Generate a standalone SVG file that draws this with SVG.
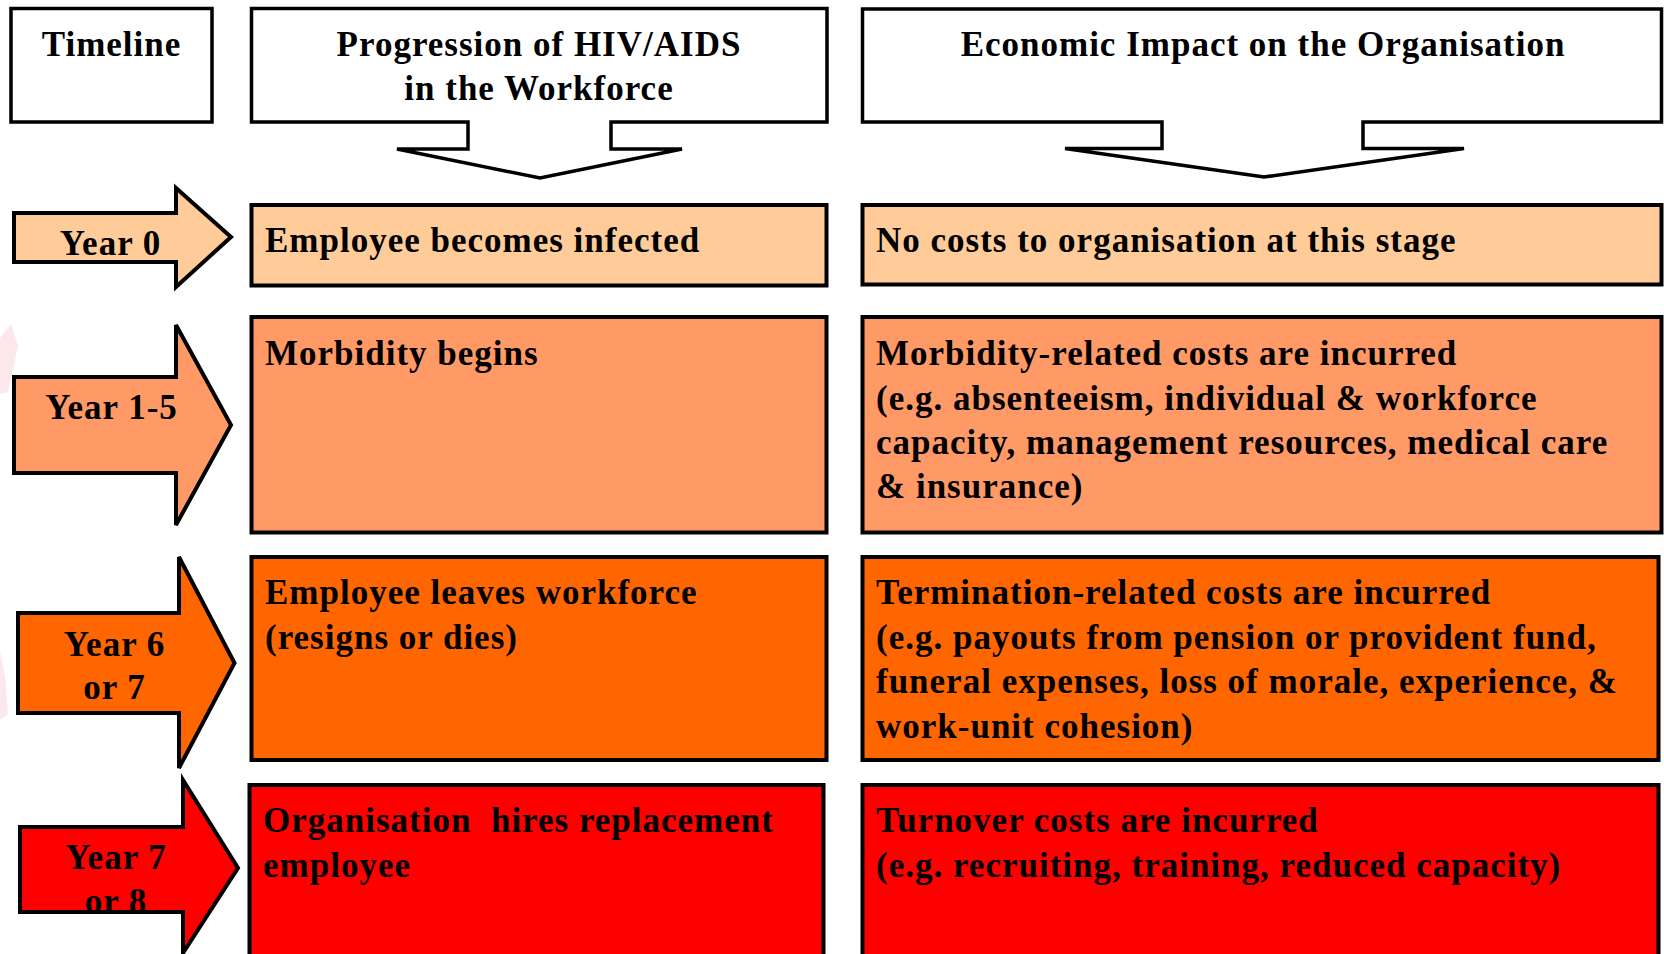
<svg xmlns="http://www.w3.org/2000/svg" width="1664" height="954" viewBox="0 0 1664 954">
<style>
  text { font-family: "Liberation Serif", "Times New Roman", serif; font-weight: bold; font-size: 35px; letter-spacing: 1px; fill: #000; }
  .mid { text-anchor: middle; }
  .pre { white-space: pre; }
  .hdr { fill: #fff; stroke: #000; stroke-width: 3.5; stroke-linejoin: miter; }
  .box { stroke: #000; stroke-width: 4; }
  .arr { stroke: #000; stroke-width: 4; stroke-linejoin: miter; }
  .c1 { fill: #FFCC99; }
  .c2 { fill: #FF9966; }
  .c3 { fill: #FF6600; }
  .c4 { fill: #FF0000; }
  .ghost { fill: #f9c9d0; opacity: 0.45; }
</style>
<defs>
  <clipPath id="clip-y78">
    <rect x="20" y="827" width="163" height="84"/>
  </clipPath>
</defs>
<rect width="1664" height="954" fill="#fff"/>
<polygon class="ghost" points="0,338 11,324 18,346 8,392 0,394"/>
<polygon class="ghost" points="0,652 5,676 8,714 0,720"/>

<g id="hdr-timeline">
  <rect class="hdr" x="11" y="8.5" width="201" height="113.5"/>
  <text class="mid" x="111.5" y="56">Timeline</text>
</g>
<g id="hdr-progression">
  <path class="hdr" d="M251.5,8.5 H827 V122 H611 V149 H682 L540,178 L397,149 H468 V122 H251.5 Z"/>
  <text class="mid" x="539" y="56">Progression of HIV/AIDS</text>
  <text class="mid" x="539" y="100">in the Workforce</text>
</g>
<g id="hdr-economic">
  <path class="hdr" d="M862.5,9 H1661.5 V122 H1363 V148.5 H1464 L1264,177 L1065,148.5 H1162 V122 H862.5 Z"/>
  <text class="mid" x="1263" y="56">Economic Impact on the Organisation</text>
</g>

<g id="year0">
  <polygon class="arr c1" points="14,213 176,213 176,188 231,237 176,287 176,262 14,262"/>
  <text class="mid" x="110.5" y="255">Year 0</text>
</g>
<g id="prog-infected">
  <rect class="box c1" x="251.5" y="205" width="575" height="80.5"/>
  <text x="265" y="252">Employee becomes infected</text>
</g>
<g id="econ-nocost">
  <rect class="box c1" x="862.5" y="205" width="799" height="79.5"/>
  <text x="876" y="252">No costs to organisation at this stage</text>
</g>

<g id="year1-5">
  <polygon class="arr c2" points="14,377 176,377 176,325 231,425 176,525 176,473 14,473"/>
  <text class="mid" x="111.5" y="419">Year 1-5</text>
</g>
<g id="prog-morbidity">
  <rect class="box c2" x="251.5" y="317" width="575" height="215.5"/>
  <text x="265" y="365">Morbidity begins</text>
</g>
<g id="econ-morbidity">
  <rect class="box c2" x="862.5" y="317" width="799" height="215.5"/>
  <text x="876" y="365">Morbidity-related costs are incurred</text>
  <text x="876" y="409.5">(e.g. absenteeism, individual &amp; workforce</text>
  <text x="876" y="454">capacity, management resources, medical care</text>
  <text x="876" y="498">&amp; insurance)</text>
</g>

<g id="year6-7">
  <polygon class="arr c3" points="18,613 179,613 179,557 234.5,663 179,768 179,713 18,713"/>
  <text class="mid" x="114.5" y="656">Year 6</text>
  <text class="mid" x="114.5" y="699">or 7</text>
</g>
<g id="prog-leaves">
  <rect class="box c3" x="251.5" y="557" width="575" height="203"/>
  <text x="265" y="604">Employee leaves workforce</text>
  <text x="265" y="649">(resigns or dies)</text>
</g>
<g id="econ-termination">
  <rect class="box c3" x="862.5" y="557" width="796" height="203"/>
  <text x="876" y="604">Termination-related costs are incurred</text>
  <text x="876" y="648.5">(e.g. payouts from pension or provident fund,</text>
  <text x="876" y="693">funeral expenses, loss of morale, experience, &amp;</text>
  <text x="876" y="737.5">work-unit cohesion)</text>
</g>

<g id="year7-8">
  <polygon class="arr c4" points="20,827 183,827 183,780 238,868 183,953 183,912 20,912"/>
  <g clip-path="url(#clip-y78)">
    <text class="mid" x="116" y="869">Year 7</text>
    <text class="mid" x="116" y="913">or 8</text>
  </g>
  <polyline points="20,912 183,912" fill="none" stroke="#000" stroke-width="4"/>
</g>
<g id="prog-hires">
  <rect class="box c4" x="249.5" y="785" width="574" height="185"/>
  <text class="pre" x="263" y="832">Organisation  hires replacement</text>
  <text x="263" y="876.5">employee</text>
</g>
<g id="econ-turnover">
  <rect class="box c4" x="862.5" y="785" width="796" height="185"/>
  <text x="876" y="832">Turnover costs are incurred</text>
  <text x="876" y="876.5">(e.g. recruiting, training, reduced capacity)</text>
</g>

<g id="connectors"></g>
</svg>
